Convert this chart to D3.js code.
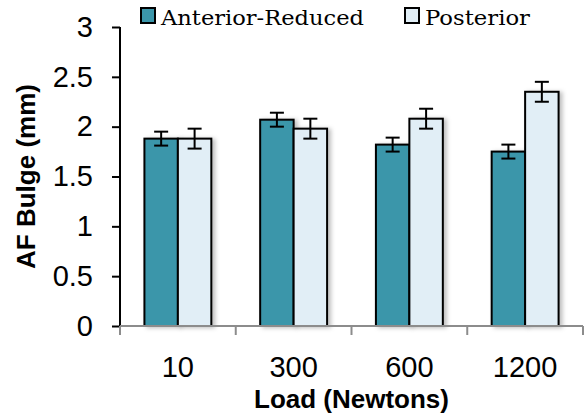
<!DOCTYPE html>
<html>
<head>
<meta charset="utf-8">
<script src="https://cdn.jsdelivr.net/npm/d3@7"></script>
<style>
  body { margin: 0; background: #fff; }
  text { font-family: "Liberation Sans", Arial, sans-serif; }
</style>
</head>
<body>
<script>
// chart data
const loads = ["10", "300", "600", "1200"];
const series = ["Anterior-Reduced", "Posterior"];
const anterior = [1.88, 2.07, 1.82, 1.75];
const anteriorErr = [0.07, 0.07, 0.07, 0.07];
const posterior = [1.88, 1.98, 2.08, 2.35];
const posteriorErr = [0.10, 0.10, 0.10, 0.10];
const yTicks = [0, 0.5, 1, 1.5, 2, 2.5, 3];

let width = 585, height = 415;
let margin = { top: 27, bottom: 89, left: 120, right: 2 };

const colors = { "Anterior-Reduced": "#3b96aa", "Posterior": "#e1eef6" };

let svg = d3.select('body')
  .append('svg')
  .attr('width', width)
  .attr('height', height);

// soft shadow like the original
svg.append("defs").append("filter")
  .attr("id", "shadow")
  .attr("x", "-20%").attr("y", "-20%").attr("width", "150%").attr("height", "140%")
  .append("feDropShadow")
  .attr("dx", 3).attr("dy", 1).attr("stdDeviation", 2)
  .attr("flood-color", "#000").attr("flood-opacity", 0.25);

// build rows
const data = loads.map((l, i) => ({
  load: l,
  values: [
    { key: series[0], v: anterior[i], e: anteriorErr[i] },
    { key: series[1], v: posterior[i], e: posteriorErr[i] }
  ]
}));

const x0 = d3.scaleBand()
  .domain(loads)
  .range([margin.left, width - margin.right]);

const x1 = d3.scaleBand()
  .domain(series)
  .range([0, x0.bandwidth()])
  .paddingOuter(0.73);

const yScale = d3.scaleLinear()
  .domain([0, 3])
  .range([height - margin.bottom, margin.top]);

// bars
const groups = svg.selectAll("g.grp")
  .data(data)
  .enter()
  .append("g")
  .attr("class", "grp")
  .attr("transform", d => `translate(${x0(d.load)},0)`);

groups.selectAll("rect")
  .data(d => d.values)
  .enter()
  .append("rect")
  .attr("x", d => x1(d.key))
  .attr("y", d => yScale(d.v))
  .attr("width", x1.bandwidth())
  .attr("height", d => yScale(0) - yScale(d.v))
  .attr("fill", d => colors[d.key])
  .attr("stroke", "#000")
  .attr("stroke-width", 2)
  .attr("filter", "url(#shadow)");

// error bars
const eb = groups.selectAll("g.err")
  .data(d => d.values)
  .enter()
  .append("g")
  .attr("class", "err")
  .attr("stroke", "#000")
  .attr("stroke-width", 2);

const cx = d => x1(d.key) + x1.bandwidth() / 2;
eb.append("line")
  .attr("x1", cx).attr("x2", cx)
  .attr("y1", d => yScale(d.v + d.e))
  .attr("y2", d => yScale(d.v - d.e));
eb.append("line")
  .attr("x1", d => cx(d) - 7).attr("x2", d => cx(d) + 7)
  .attr("y1", d => yScale(d.v + d.e)).attr("y2", d => yScale(d.v + d.e));
eb.append("line")
  .attr("x1", d => cx(d) - 7).attr("x2", d => cx(d) + 7)
  .attr("y1", d => yScale(d.v - d.e)).attr("y2", d => yScale(d.v - d.e));

// y axis
const yAxis = svg.append("g")
  .attr("transform", `translate(${margin.left},0)`)
  .call(d3.axisLeft(yScale).tickValues(yTicks).tickFormat(d3.format("")).tickSize(8).tickPadding(19));
yAxis.select(".domain").attr("d", `M0,${yScale(3)}V${yScale(0)}`).attr("stroke", "#000").attr("stroke-width", 2);
yAxis.selectAll(".tick line").attr("stroke", "#000").attr("stroke-width", 2);
yAxis.selectAll(".tick text")
  .attr("font-size", 29)
  .attr("font-family", "'Liberation Sans', Arial, sans-serif")
  .attr("fill", "#000");

// x axis (grey, ticks between categories)
const xAxisY = yScale(0);
const xg = svg.append("g").attr("stroke", "#8c8c8c").attr("stroke-width", 2);
xg.append("line")
  .attr("x1", margin.left).attr("x2", width - margin.right)
  .attr("y1", xAxisY).attr("y2", xAxisY);
const bounds = loads.map(l => x0(l)).concat([x0(loads[loads.length - 1]) + x0.bandwidth()]);
xg.selectAll("line.tk")
  .data(bounds)
  .enter()
  .append("line")
  .attr("class", "tk")
  .attr("x1", d => d).attr("x2", d => d)
  .attr("y1", xAxisY).attr("y2", xAxisY + 9);

svg.selectAll("text.xl")
  .data(loads)
  .enter()
  .append("text")
  .attr("class", "xl")
  .attr("x", d => x0(d) + x0.bandwidth() / 2)
  .attr("y", 377)
  .attr("text-anchor", "middle")
  .attr("font-size", 29)
  .text(d => d);

// axis titles
svg.append("text")
  .attr("x", (margin.left + width - margin.right) / 2)
  .attr("y", 408)
  .attr("text-anchor", "middle")
  .attr("font-size", 26)
  .attr("font-weight", "bold")
  .text("Load (Newtons)");

svg.append("text")
  .attr("transform", `translate(35,${(yScale(0) + yScale(3)) / 2})rotate(-90)`)
  .attr("text-anchor", "middle")
  .attr("font-size", 26)
  .attr("font-weight", "bold")
  .text("AF Bulge (mm)");

// legend
const legendX = [140, 404];
const legendW = [203, 105];
const lg = svg.selectAll("g.lg")
  .data(series)
  .enter()
  .append("g")
  .attr("class", "lg")
  .attr("transform", (d, i) => `translate(${legendX[i]},0)`);
lg.append("rect")
  .attr("x", 1).attr("y", 8)
  .attr("width", 14).attr("height", 15)
  .attr("fill", d => colors[d])
  .attr("stroke", "#000")
  .attr("stroke-width", 2);
lg.append("text")
  .attr("x", 21)
  .attr("y", 25)
  .style("font-family", "'DejaVu Serif', serif")
  .attr("font-size", 21)
  .attr("textLength", (d, i) => legendW[i])
  .attr("lengthAdjust", "spacingAndGlyphs")
  .text(d => d);
</script>
</body>
</html>
